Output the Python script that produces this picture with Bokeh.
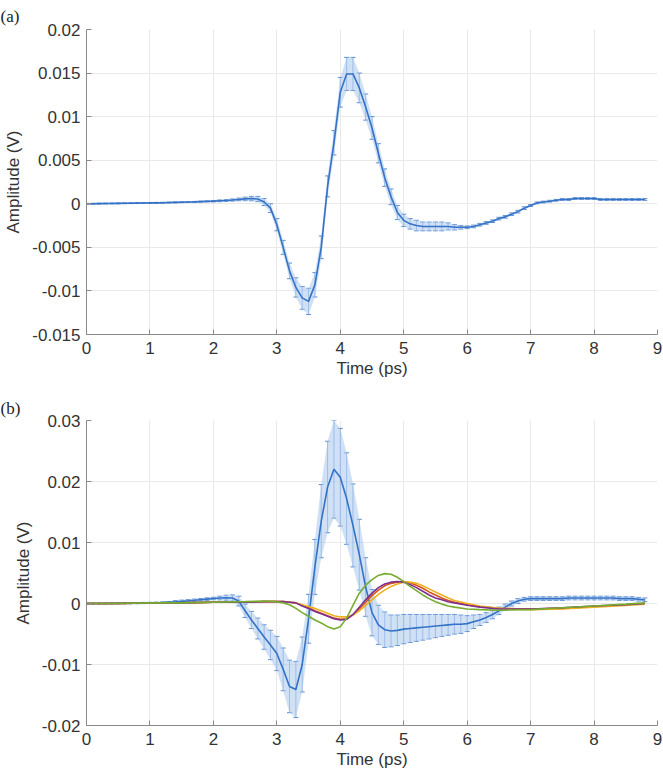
from bokeh.plotting import figure
from bokeh.models import ColumnDataSource, Whisker, TeeHead, FixedTicker, Range1d
from bokeh.layouts import column
from bokeh.embed import file_html
from bokeh.resources import INLINE

# ---------------- data ----------------
# uniform time base (ps) for the error-bar series, 0.0 .. 8.8 step 0.1
t_err = [round(0.1 * i, 1) for i in range(89)]

# panel (a): mean amplitude (V) and error half-width (V)
mean_a = [
    0, 0.00001, 0.00002, 0.00003, 0.00004, 0.00005, 0.00006, 0.00007, 0.00008, 0.00009,
    0.0001, 0.00011, 0.00012, 0.00014, 0.00016, 0.00018, 0.0002, 0.00022, 0.00025, 0.00028,
    0.0003, 0.00034, 0.00038, 0.00043, 0.0005, 0.00056, 0.0006, 0.00055, 0.0002, -0.0005,
    -0.0024, -0.0050, -0.0077, -0.0096, -0.0108, -0.0112, -0.0093, -0.0050, 0.0020, 0.0070,
    0.0128, 0.0149, 0.0149, 0.0133, 0.0111, 0.0087, 0.0058, 0.0030, 0.0008, -0.0010,
    -0.0019, -0.0023, -0.0025, -0.0026, -0.0026, -0.0026, -0.0026, -0.0026, -0.0027, -0.0027,
    -0.0027, -0.0026, -0.0024, -0.0022, -0.0020, -0.0017, -0.0015, -0.0012, -0.0009, -0.0005,
    -0.0002, 0.0001, 0.0002, 0.0003, 0.0004, 0.0005, 0.0005, 0.0006, 0.0006, 0.0006,
    0.0006, 0.0005, 0.0005, 0.0005, 0.0005, 0.0005, 0.0005, 0.0005, 0.0005,
]
err_a = [
    0.00005, 0.00005, 0.00005, 0.00005, 0.00005, 0.00005, 0.00005, 0.00005, 0.00005, 0.00005,
    0.00005, 0.00005, 0.00005, 0.00005, 0.00005, 0.00005, 0.00005, 0.00005, 0.00005, 0.00005,
    0.00008, 0.0001, 0.0001, 0.00012, 0.00015, 0.0002, 0.00025, 0.0003, 0.0004, 0.0005,
    0.0007, 0.0008, 0.0009, 0.0011, 0.0013, 0.0015, 0.0014, 0.0013, 0.0012, 0.0014,
    0.0017, 0.0019, 0.0019, 0.0017, 0.0015, 0.0013, 0.0011, 0.0010, 0.0009, 0.0008,
    0.0007, 0.0006, 0.0006, 0.0005, 0.0005, 0.0005, 0.0005, 0.0004, 0.0003, 0.0002,
    0.00015, 0.00015, 0.00015, 0.00015, 0.00015, 0.00015, 0.00015, 0.00015, 0.00015, 0.00015,
    0.0001, 0.0001, 0.0001, 0.0001, 0.0001, 0.0001, 0.0001, 0.0001, 0.0001, 0.0001,
    0.0001, 0.0001, 0.0001, 0.0001, 0.0001, 0.0001, 0.0001, 0.0001, 0.0001,
]

# panel (b): blue series with error bars
mean_b = [
    0, 0, 0, 0, 0.00002, 0.00003, 0.00004, 0.00005, 0.00006, 0.00008,
    0.0001, 0.00013, 0.00017, 0.00022, 0.00028, 0.00035, 0.00043, 0.00052, 0.00062, 0.00072,
    0.00082, 0.0009, 0.00095, 0.0009, 0.0004, -0.0012, -0.0027, -0.0041, -0.0055, -0.0068,
    -0.0082, -0.0108, -0.0136, -0.0141, -0.0100, -0.0025, 0.0060, 0.0135, 0.0191, 0.0220,
    0.0207, 0.0172, 0.0128, 0.0080, 0.0027, -0.0015, -0.0035, -0.0043, -0.0045, -0.0044,
    -0.0042, -0.0041, -0.0040, -0.0039, -0.0038, -0.0037, -0.0036, -0.0035, -0.0034, -0.0034,
    -0.0033, -0.0030, -0.0027, -0.0023, -0.0018, -0.0012, -0.0006, 0.0000, 0.0004, 0.0007,
    0.0008, 0.0008, 0.0008, 0.0008, 0.0008, 0.0008, 0.0009, 0.0009, 0.0009, 0.0009,
    0.0009, 0.0009, 0.0009, 0.0009, 0.0008, 0.0008, 0.0008, 0.0007, 0.0006,
]
err_b = [
    0.0001, 0.0001, 0.0001, 0.0001, 0.0001, 0.0001, 0.0001, 0.0001, 0.0001, 0.0001,
    0.0001, 0.0001, 0.0001, 0.0001, 0.0002, 0.0002, 0.0002, 0.0002, 0.0002, 0.0002,
    0.0002, 0.0003, 0.0004, 0.0005, 0.0008, 0.0011, 0.0014, 0.0017, 0.0020, 0.0024,
    0.0028, 0.0035, 0.0043, 0.0046, 0.0045, 0.0040, 0.0045, 0.0060, 0.0075, 0.0080,
    0.0080, 0.0075, 0.0068, 0.0058, 0.0048, 0.0038, 0.0032, 0.0029, 0.0026, 0.0025,
    0.0024, 0.0023, 0.0022, 0.0021, 0.0020, 0.0019, 0.0018, 0.0017, 0.0016, 0.0015,
    0.0013, 0.0011, 0.0009, 0.0008, 0.0007, 0.0006, 0.0005, 0.0004, 0.0004, 0.0003,
    0.0003, 0.0003, 0.0003, 0.0003, 0.0003, 0.0003, 0.0003, 0.0003, 0.0003, 0.0003,
    0.0003, 0.0003, 0.0003, 0.0003, 0.0003, 0.0003, 0.0003, 0.0003, 0.0003,
]

# panel (b): other curves (no error bars)
t_c = [0, 0.5, 1.0, 1.5, 2.0, 2.5, 2.8, 3.0,
       3.1, 3.2, 3.3, 3.4, 3.5, 3.6, 3.7, 3.8, 3.9, 4.0,
       4.1, 4.2, 4.3, 4.4, 4.5, 4.6, 4.7, 4.8, 4.9, 5.0,
       5.1, 5.2, 5.3, 5.4, 5.5, 5.6, 5.7, 5.8,
       6.0, 6.2, 6.5, 7.0, 7.5, 8.0, 8.5, 8.8]
orange_b = [0, 0, 0.0001, 0.0001, 0.0002, 0.0002, 0.0003, 0.0003,
            0.0003, 0.0002, 0.0001, -0.0003, -0.0007, -0.0012, -0.0016, -0.0020, -0.0024, -0.0026,
            -0.0025, -0.0019, -0.0009, 0.0002, 0.0013, 0.0022, 0.0029, 0.0033, 0.0035, 0.0036,
            0.0034, 0.0030, 0.0025, 0.0019, 0.0014, 0.0009, 0.0005, 0.0002,
            -0.0002, -0.0005, -0.0008, -0.0009, -0.0008, -0.0005, -0.0002, 0.0]
yellow_b = [0, 0, 0.0001, 0.0001, 0.0002, 0.0002, 0.0003, 0.0003,
            0.0003, 0.0002, 0.0001, -0.0002, -0.0005, -0.0008, -0.0012, -0.0016, -0.0020, -0.0022,
            -0.0022, -0.0019, -0.0012, -0.0003, 0.0006, 0.0015, 0.0022, 0.0028, 0.0032, 0.0035,
            0.0035, 0.0033, 0.0029, 0.0024, 0.0019, 0.0014, 0.0009, 0.0005,
            0.0, -0.0004, -0.0008, -0.0010, -0.0009, -0.0006, -0.0003, -0.0001]
purple_b = [0, 0, 0.0001, 0.0001, 0.0002, 0.0002, 0.0003, 0.0003,
            0.0003, 0.0002, 0.0001, -0.0004, -0.0008, -0.0013, -0.0017, -0.0021, -0.0025, -0.0027,
            -0.0026, -0.0018, -0.0006, 0.0006, 0.0017, 0.0026, 0.0032, 0.0035, 0.0036, 0.0035,
            0.0031, 0.0026, 0.0020, 0.0014, 0.0009, 0.0006, 0.0003, 0.0001,
            -0.0003, -0.0006, -0.0009, -0.0009, -0.0007, -0.0004, -0.0002, 0.0]
green_b = [0, 0, 0.0001, 0.0001, 0.0002, 0.0003, 0.0004, 0.0003,
           0.0001, -0.0002, -0.0008, -0.0015, -0.0021, -0.0027, -0.0032, -0.0038, -0.0042, -0.0038,
           -0.0024, -0.0003, 0.0017, 0.0030, 0.0039, 0.0046, 0.0049, 0.0048, 0.0043, 0.0036,
           0.0028, 0.0021, 0.0014, 0.0008, 0.0003, -0.0001, -0.0004, -0.0006,
           -0.0009, -0.0010, -0.0011, -0.0010, -0.0007, -0.0004, -0.0001, 0.0001]

x_ticks = [0, 1, 2, 3, 4, 5, 6, 7, 8, 9]
y_ticks_a = [-0.015, -0.01, -0.005, 0, 0.005, 0.01, 0.015, 0.02]
y_labels_a = ["-0.015", "-0.01", "-0.005", "0", "0.005", "0.01", "0.015", "0.02"]
y_ticks_b = [-0.02, -0.01, 0, 0.01, 0.02, 0.03]
y_labels_b = ["-0.02", "-0.01", "0", "0.01", "0.02", "0.03"]

# ---------------- styling ----------------
BLUE = "#3372c6"
BAND = "#a9c7ec"
FONT = "Liberation Sans"
TXT = "#333333"


def make_panel(tag, mean, err, yr, yticks, ylabels, top, bottom, title_standoff):
    p = figure(frame_width=571, frame_height=305,
               x_range=Range1d(0, 9), y_range=Range1d(*yr),
               output_backend="svg", toolbar_location=None,
               min_border_left=86, min_border_right=5,
               min_border_top=top, min_border_bottom=bottom,
               outline_line_color=None, background_fill_color="white",
               border_fill_color="white")
    p.title.text = tag
    p.title.align = "left"
    p.title.offset = -86
    p.title.standoff = title_standoff
    p.title.text_font = "Liberation Serif"
    p.title.text_font_size = "17px"
    p.title.text_font_style = "normal"
    p.title.text_color = "#222222"

    p.xaxis.ticker = FixedTicker(ticks=x_ticks)
    p.yaxis.ticker = FixedTicker(ticks=yticks)
    p.yaxis.major_label_overrides = dict(zip(yticks, ylabels))
    p.xaxis.axis_label = "Time (ps)"
    p.yaxis.axis_label = "Amplitude (V)"
    for ax in (p.xaxis[0], p.yaxis[0]):
        ax.axis_line_color = "#8a8a8a"
        ax.major_tick_line_color = "#8a8a8a"
        ax.major_tick_in = 5
        ax.major_tick_out = 0
        ax.minor_tick_line_color = None
        ax.major_label_text_font = FONT
        ax.major_label_text_font_size = "17px"
        ax.major_label_text_color = TXT
        ax.axis_label_text_font = FONT
        ax.axis_label_text_font_size = "17px"
        ax.axis_label_text_font_style = "normal"
        ax.axis_label_text_color = TXT
    p.xaxis.major_label_standoff = 7
    p.xaxis.axis_label_standoff = 2
    p.yaxis.major_label_standoff = 6
    p.yaxis.axis_label_standoff = 6
    p.xgrid.ticker = FixedTicker(ticks=x_ticks)
    p.ygrid.ticker = FixedTicker(ticks=yticks)
    p.grid.grid_line_color = "#e9e9e9"
    p.grid.grid_line_width = 1

    lo = [m - e for m, e in zip(mean, err)]
    up = [m + e for m, e in zip(mean, err)]
    src = ColumnDataSource(dict(t=t_err, m=mean, lo=lo, up=up))
    p.varea(x="t", y1="lo", y2="up", source=src, fill_color=BAND, fill_alpha=0.55)
    w = Whisker(source=src, base="t", lower="lo", upper="up", dimension="height",
                line_color=BLUE, line_alpha=0.55, line_width=1,
                upper_head=TeeHead(size=5, line_color=BLUE, line_width=1, line_alpha=0.8),
                lower_head=TeeHead(size=5, line_color=BLUE, line_width=1, line_alpha=0.8))
    p.add_layout(w)
    p.line("t", "m", source=src, line_color=BLUE, line_width=1.6)
    return p


pa = make_panel("(a)", mean_a, err_a, (-0.015, 0.02), y_ticks_a, y_labels_a, 29, 56, 7)
pb = make_panel("(b)", mean_b, err_b, (-0.02, 0.03), y_ticks_b, y_labels_b, 30, 52, 5)

srcc = ColumnDataSource(dict(t=t_c, o=orange_b, y=yellow_b, pu=purple_b, g=green_b))
pb.line("t", "o", source=srcc, line_color="#D95319", line_width=1.6)
pb.line("t", "y", source=srcc, line_color="#EDB120", line_width=1.6)
pb.line("t", "pu", source=srcc, line_color="#7E2F8E", line_width=1.6)
pb.line("t", "g", source=srcc, line_color="#77AC30", line_width=1.6)

layout = column(pa, pb, spacing=0)
open("out.html", "w").write(file_html(layout, INLINE))
